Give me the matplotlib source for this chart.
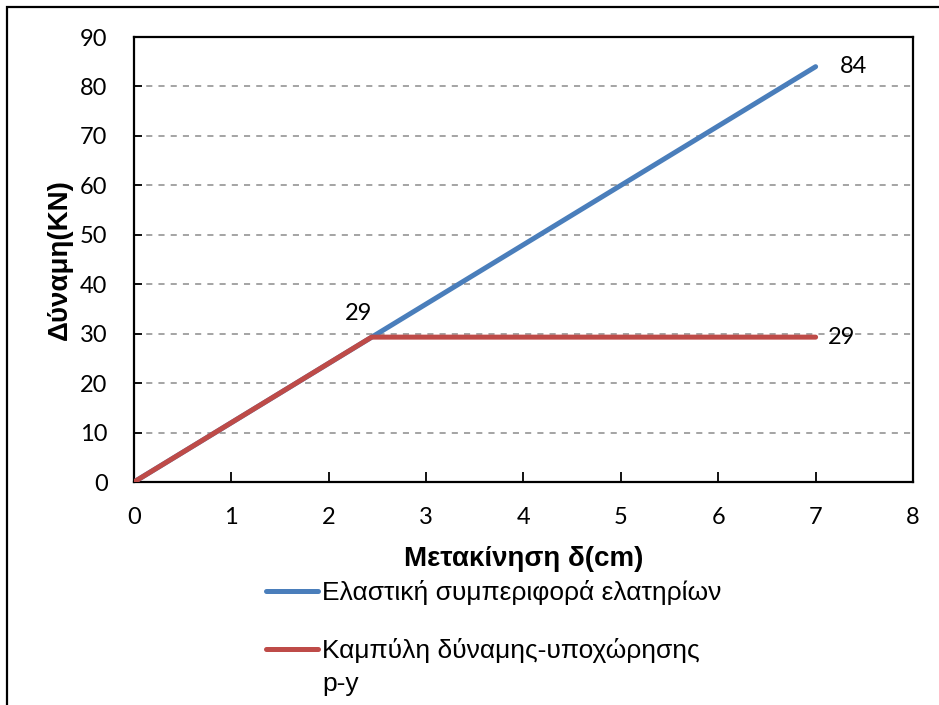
import matplotlib.pyplot as plt
from matplotlib.patches import Rectangle
from matplotlib.lines import Line2D

# data
elastic_x = [0, 7]
elastic_y = [0, 84]
py_x = [0, 2.44, 7]
py_y = [0, 29.3, 29.3]

elastic_label = 'Ελαστική συμπεριφορά ελατηρίων'
py_label = 'Καμπύλη δύναμης-υποχώρησης\np-y'
x_title = 'Μετακίνηση δ(cm)'
y_title = 'Δύναμη(KN)'

blue_c = '#4a7ebb'
red_c = '#be4b48'
num_font = ['Lato', 'DejaVu Sans']

plt.rcParams['font.family'] = ['Liberation Sans', 'DejaVu Sans']

fig = plt.figure(figsize=(9.39, 7.05), dpi=100)
ax = fig.add_axes([0.1427, 0.3163, 0.8296, 0.6312])

# outer chart frame (right/bottom edges cut off in the original)
fig.patches.append(Rectangle((7 / 939, -0.05), 1.1, 1 - 7 / 705 + 0.05,
                             transform=fig.transFigure, fill=False,
                             edgecolor='black', linewidth=1.6))

ax.plot(elastic_x, elastic_y, color=blue_c, lw=3.6,
        solid_capstyle='round', zorder=3)
ax.plot(py_x, py_y, color=red_c, lw=3.6,
        solid_capstyle='round', zorder=4)

# data labels
ax.text(2.31, 34.0, '29', fontsize=17, family=num_font,
        ha='center', va='center')
ax.text(7.39, 84, '84', fontsize=17, family=num_font,
        ha='center', va='center')
ax.text(7.27, 29.3, '29', fontsize=17, family=num_font,
        ha='center', va='center')

ax.set_xlim(0, 8)
ax.set_ylim(0, 90)
ax.set_xticks(range(0, 9))
ax.set_yticks(range(0, 100, 10))
ax.yaxis.grid(True, linestyle=(0, (4, 4)), color='#8c8c8c', lw=1.1)
ax.set_axisbelow(True)
for s in ax.spines.values():
    s.set_linewidth(1.6)
ax.tick_params(axis='x', direction='in', length=7, width=1.3,
               labelsize=17, pad=18)
ax.tick_params(axis='y', direction='in', length=6, width=1.3,
               labelsize=17, pad=19)
for lab in ax.get_xticklabels() + ax.get_yticklabels():
    lab.set_family(num_font)

ax.set_xlabel(x_title, fontsize=20, fontweight='bold', labelpad=13)
ax.set_ylabel(y_title, fontsize=20, fontweight='bold', labelpad=5)

# legend below the plot, drawn in figure pixels like the original
def fx(px):
    return px / 939

def fy(py):
    return 1 - py / 705

for y_px, color, label in [(591, blue_c, elastic_label),
                           (649, red_c, py_label)]:
    fig.add_artist(Line2D([fx(266), fx(318)], [fy(y_px), fy(y_px)],
                          color=color, lw=3.6, solid_capstyle='round'))
    fig.text(fx(322), fy(y_px - 11), label, fontsize=19, va='top',
             ha='left', linespacing=1.45)

fig.savefig('out.png', dpi=100)
